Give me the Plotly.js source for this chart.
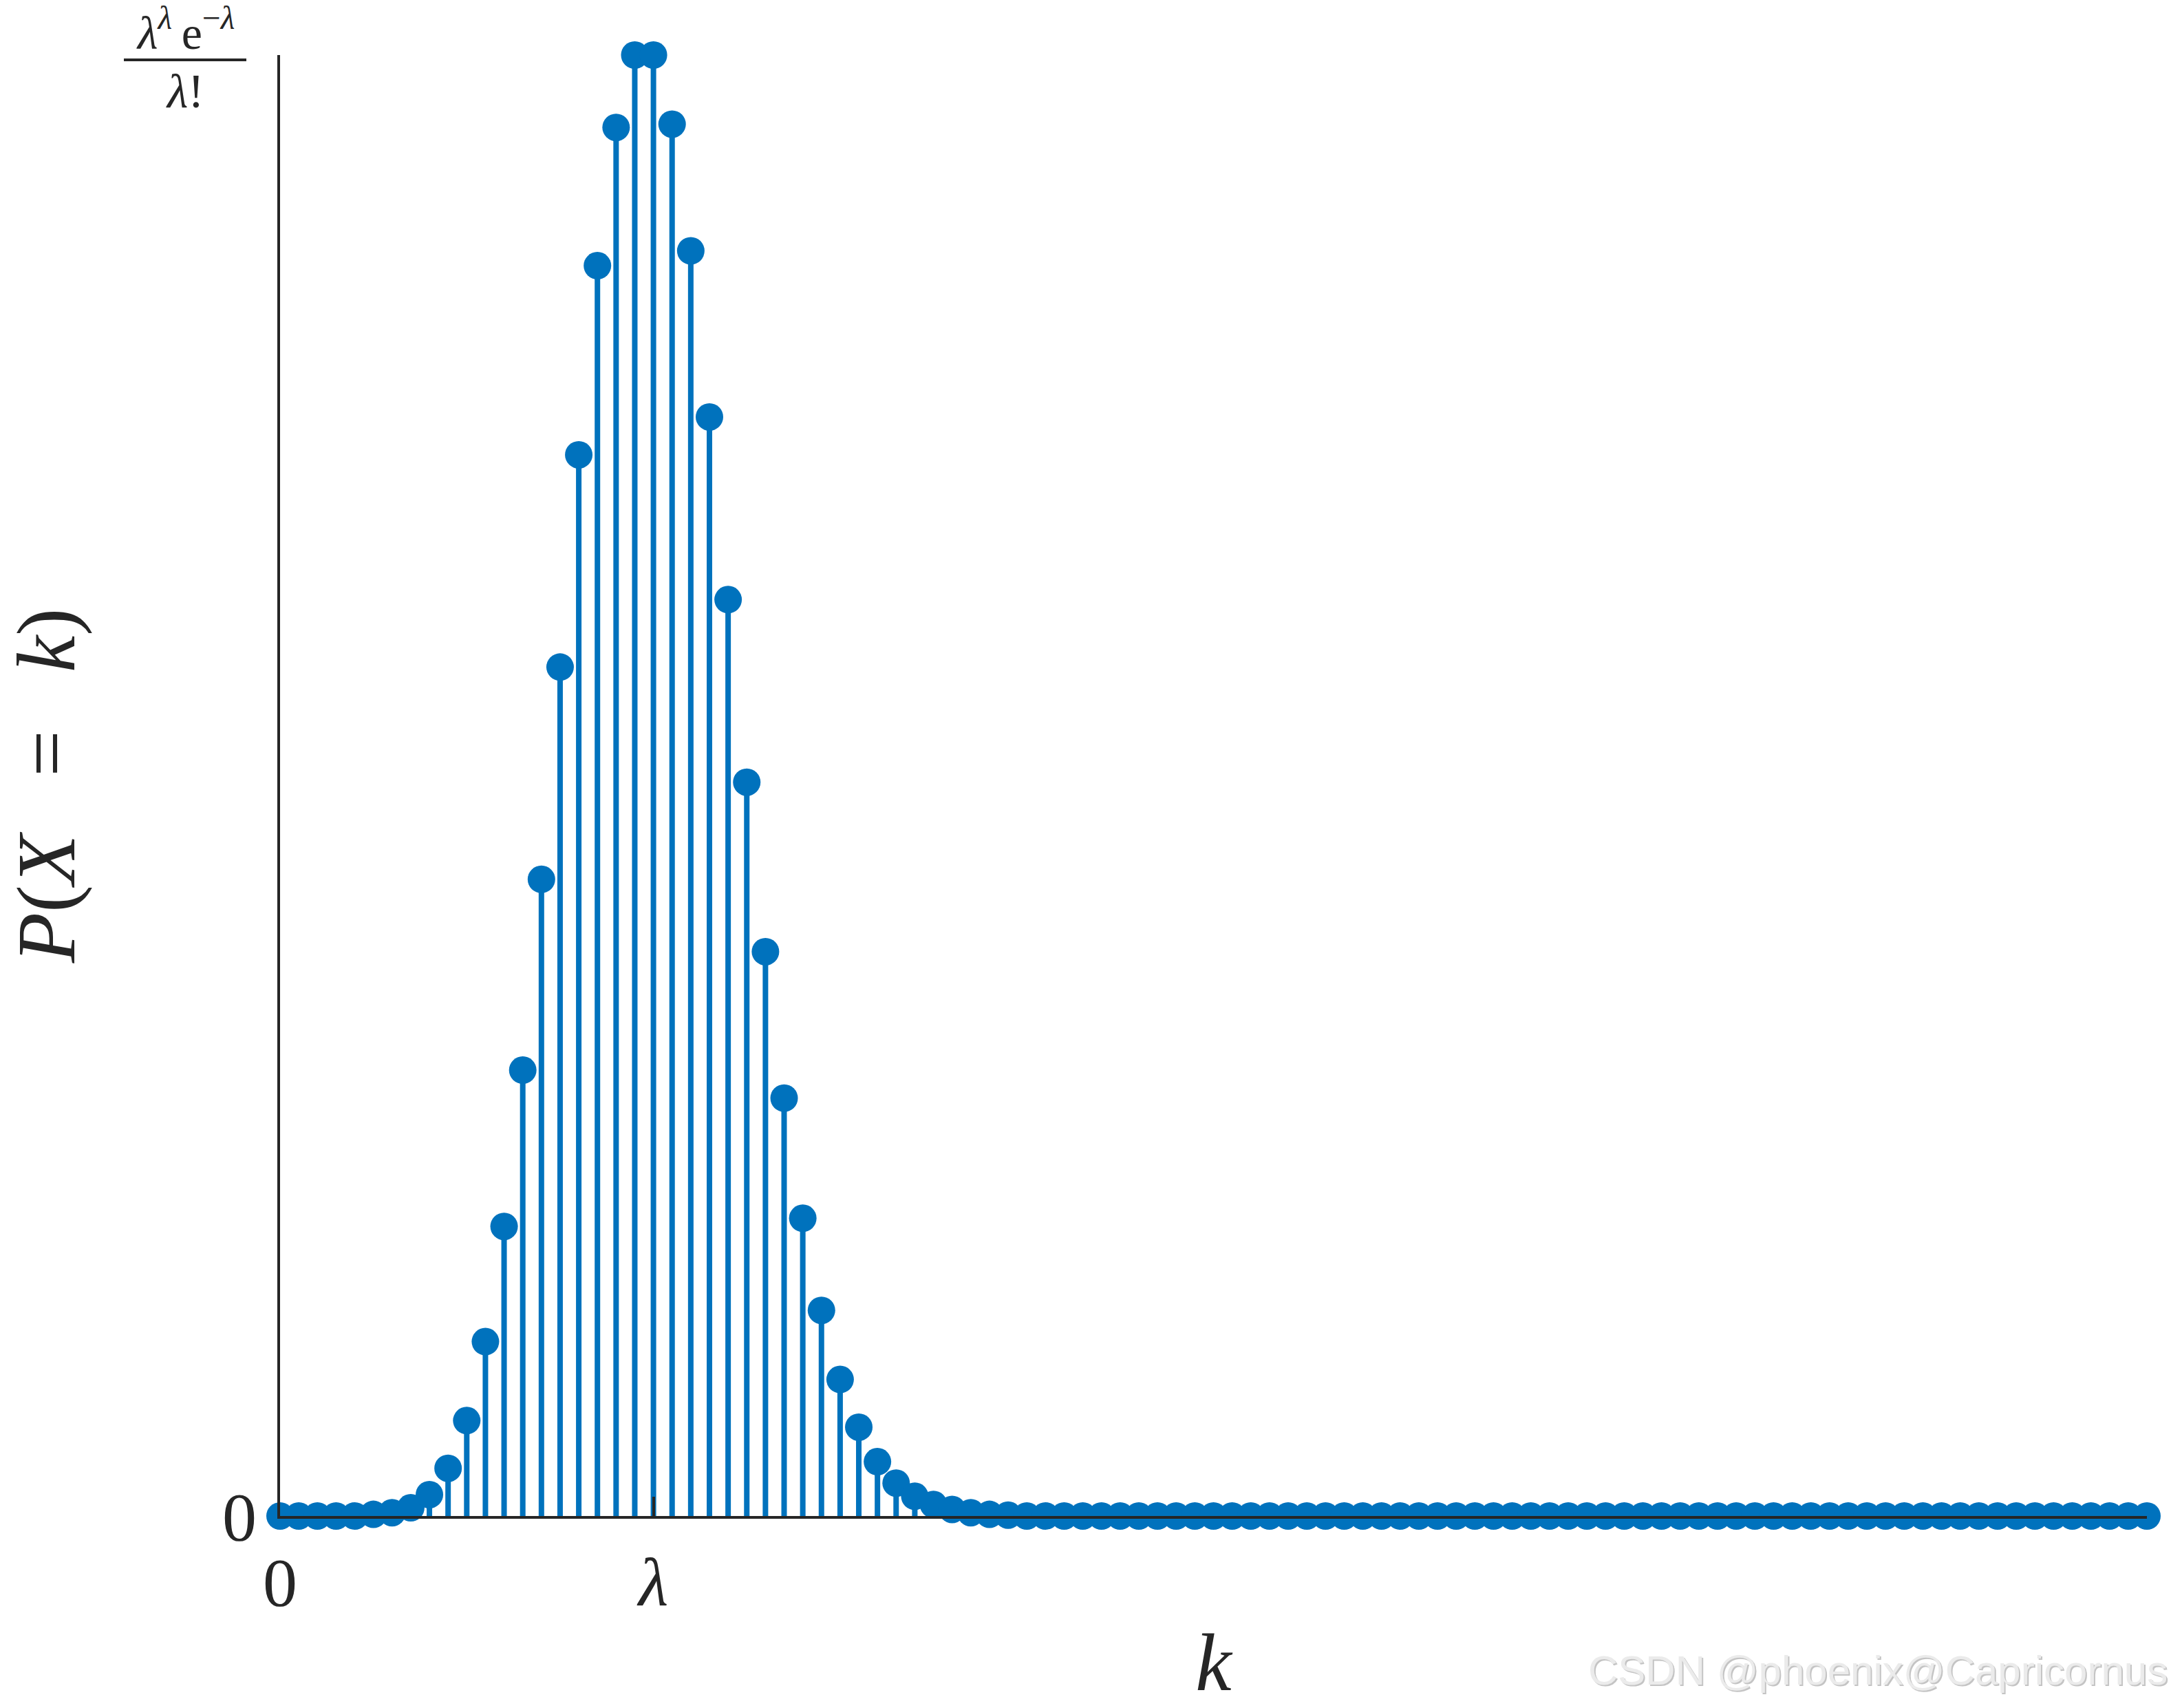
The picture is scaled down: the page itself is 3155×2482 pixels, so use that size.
<!DOCTYPE html>
<html>
<head>
<meta charset="utf-8">
<script src="https://cdn.plot.ly/plotly-3.0.1.min.js"></script>
<style>html,body{margin:0;padding:0;background:#fff;}#chart{width:3155px;height:2482px;}</style>
</head>
<body>
<div id="chart"></div>
<script>
// k values 0..100
const k = Array.from({length: 101}, (_, i) => i);
// P(X=k) (lambda = 20), k = 0..40; beyond that ~0
const pHead = [
  0, 0, 0, 0, 0, 0.0001, 0.0002, 0.0005, 0.0013, 0.0029,
  0.0058, 0.0106, 0.0176, 0.0271, 0.0387, 0.0516, 0.0645, 0.0760, 0.0844, 0.0888,
  0.0888, 0.0846, 0.0769, 0.0668, 0.0557, 0.0446, 0.0343, 0.0254, 0.0181, 0.0125,
  0.0083, 0.0054, 0.0033, 0.0020, 0.0012, 0.0007, 0.0004, 0.0002, 0.0001, 0.00005,
  0
];
const pTail = new Array(60).fill(0);
const p = pHead.concat(pTail);
const lambda = 20;
const peak = 0.0888;
const xTickVals = [0, lambda];
const xTickText = ['0', '<i>λ</i>'];
const yTickVals = [0, peak];
const yTickText = ['0', ''];

const blue = '#0072BD';
const dark = '#262626';
const serif = 'Liberation Serif, DejaVu Serif, serif';

const trace = {
  type: 'scatter',
  mode: 'markers',
  x: k,
  y: p,
  cliponaxis: false,
  marker: {color: blue, size: 40, line: {width: 0}},
  error_y: {
    type: 'data', symmetric: false,
    array: p.map(() => 0), arrayminus: p,
    thickness: 8, width: 0, color: blue
  },
  hoverinfo: 'x+y'
};

const L = 407, R = 3120, T = 80, B = 2203;
const px = v => (v - L) / (R - L);
const py = v => (B - v) / (B - T);

const layout = {
  width: 3155, height: 2482,
  margin: {l: L, r: 3155 - R, t: T, b: 2482 - B, pad: 0},
  paper_bgcolor: '#ffffff', plot_bgcolor: '#ffffff',
  showlegend: false,
  font: {family: serif, color: dark},
  xaxis: {
    range: [0, 100], showgrid: false, zeroline: false,
    showline: true, linecolor: dark, linewidth: 4,
    ticks: 'inside', ticklen: 28, tickwidth: 4, tickcolor: dark,
    tickvals: xTickVals, ticktext: xTickText,
    tickfont: {family: serif, size: 100, color: dark},
    ticklabelstandoff: 6,
    title: {text: '<i>k</i>', font: {family: serif, size: 118, color: dark}}
  },
  yaxis: {
    range: [0, peak], showgrid: false, zeroline: false,
    showline: true, linecolor: dark, linewidth: 4,
    ticks: 'inside', ticklen: 28, tickwidth: 4, tickcolor: dark,
    tickvals: yTickVals, ticktext: yTickText,
    tickfont: {family: serif, size: 100, color: dark},
    ticklabelstandoff: 10,
    automargin: true,
    title: {text: '<i>P</i>(<i>X</i>\u2002\u2009=\u2009\u2002<i>k</i>)', font: {family: serif, size: 120, color: dark}, standoff: 175}
  },
  shapes: [
    {type: 'line', xref: 'paper', yref: 'paper', x0: px(180), x1: px(358), y0: py(87), y1: py(87),
     line: {color: dark, width: 4}}
  ],
  annotations: [
    {xref: 'paper', yref: 'paper', x: px(269), y: py(88), xanchor: 'center', yanchor: 'bottom',
     showarrow: false, font: {family: serif, size: 68, color: dark},
     text: '<i>λ</i><sup><i>λ</i></sup>\u2009e<sup>−<i>λ</i></sup>'},
    {xref: 'paper', yref: 'paper', x: px(269), y: py(92), xanchor: 'center', yanchor: 'top',
     showarrow: false, font: {family: serif, size: 70, color: dark},
     text: '<i>λ</i>!'},
    {xref: 'paper', yref: 'paper', x: px(3152), y: py(2428), xanchor: 'right', yanchor: 'middle',
     showarrow: false, font: {family: 'Liberation Sans, Arial, sans-serif', size: 60, color: '#c4c4c4'},
     text: 'CSDN @phoenix@Capricornus', xshift: 2, yshift: -2},
    {xref: 'paper', yref: 'paper', x: px(3152), y: py(2428), xanchor: 'right', yanchor: 'middle',
     showarrow: false, font: {family: 'Liberation Sans, Arial, sans-serif', size: 60, color: '#ebebeb'},
     text: 'CSDN @phoenix@Capricornus'}
  ]
};

Plotly.newPlot('chart', [trace], layout, {staticPlot: true, displayModeBar: false});
</script>
</body>
</html>
